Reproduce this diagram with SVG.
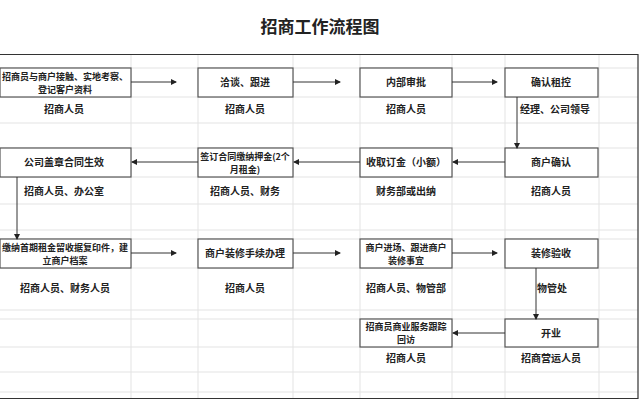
<svg xmlns="http://www.w3.org/2000/svg" width="640" height="401" viewBox="0 0 640 401">
<style>
.g{stroke:#e3e3e3;stroke-width:1}
.b rect{fill:#fff;stroke:#555;stroke-width:1.2}
text{font-family:"Noto Sans CJK SC",sans-serif;font-size:10px;font-weight:bold;fill:#222;text-anchor:middle}
.s{font-size:9px}
.c{stroke:#333;stroke-width:1;fill:none;marker-end:url(#a)}
</style>
<defs><marker id="a" markerWidth="6" markerHeight="6" refX="5" refY="3" orient="auto" markerUnits="userSpaceOnUse"><path d="M0,0L6,3L0,6z" fill="#222"/></marker></defs>
<rect width="640" height="401" fill="#fff"/>
<text x="320" y="33" style="font-size:17px">招商工作流程图</text>
<g>
<path class="g" d="M131 55V398M198 55V398M293 55V398M360 55V398M452 55V398M505 55V398M599 55V398M0 68H638M0 97H638M0 123H638M0 148H638M0 177H638M0 204H638M0 230H638M0 239H638M0 268H638M0 310H638M0 319H638M0 347H638M0 372H638M0 392H638"/>
<path d="M0 54.5H638V398.5H0" fill="none" stroke="#333" stroke-width="1.2"/>
</g>
<g id="n1" class="b"><rect x="0" y="68" width="131" height="29"/><text class="s" x="65" y="80">招商员与商户接触、实地考察、</text><text class="s" x="65" y="93">登记客户资料</text><text x="64" y="113">招商人员</text></g>
<g id="n2" class="b"><rect x="198" y="68" width="95" height="29"/><text x="245" y="86">洽谈、跟进</text><text x="245" y="113">招商人员</text></g>
<g id="n3" class="b"><rect x="360" y="68" width="92" height="29"/><text x="406" y="86">内部审批</text><text x="406" y="113">招商人员</text></g>
<g id="n4" class="b"><rect x="505" y="68" width="93" height="29"/><text x="551" y="86">确认租控</text><text x="555" y="113">经理、公司领导</text></g>
<g id="n5" class="b"><rect x="505" y="148" width="93" height="29"/><text x="551" y="166">商户确认</text><text x="551" y="195">招商人员</text></g>
<g id="n6" class="b"><rect x="360" y="148" width="92" height="29"/><text x="406" y="166">收取订金（小额）</text><text x="406" y="195">财务部或出纳</text></g>
<g id="n7" class="b"><rect x="198" y="148" width="95" height="29"/><text class="s" x="245" y="160">签订合同缴纳押金(2个</text><text class="s" x="245" y="173">月租金)</text><text x="245" y="195">招商人员、财务</text></g>
<g id="n8" class="b"><rect x="0" y="148" width="131" height="29"/><text x="64" y="166">公司盖章合同生效</text><text x="64" y="195">招商人员、办公室</text></g>
<g id="n9" class="b"><rect x="0" y="239" width="131" height="29"/><text class="s" x="65" y="251">缴纳首期租金留收据复印件，建</text><text class="s" x="65" y="264">立商户档案</text><text x="65" y="292">招商人员、财务人员</text></g>
<g id="n10" class="b"><rect x="198" y="239" width="95" height="29"/><text x="245" y="257">商户装修手续办理</text><text x="245" y="292">招商人员</text></g>
<g id="n11" class="b"><rect x="360" y="239" width="92" height="29"/><text class="s" x="406" y="251">商户进场、跟进商户</text><text class="s" x="406" y="264">装修事宜</text><text x="406" y="292">招商人员、物管部</text></g>
<g id="n12" class="b"><rect x="505" y="239" width="93" height="29"/><text x="551" y="257">装修验收</text><text x="552" y="292">物管处</text></g>
<g id="n13" class="b"><rect x="505" y="319" width="93" height="28"/><text x="551" y="337">开业</text><text x="551" y="362">招商营运人员</text></g>
<g id="n14" class="b"><rect x="360" y="319" width="92" height="28"/><text class="s" x="406" y="330">招商员商业服务跟踪</text><text class="s" x="406" y="343">回访</text><text x="406" y="362">招商人员</text></g>
<g id="connectors">
<path class="c" d="M131 82H176"/><path class="c" d="M293 82H340"/><path class="c" d="M452 82H497"/>
<path class="c" d="M517 97V148"/>
<path class="c" d="M505 162H453"/><path class="c" d="M360 162H294"/><path class="c" d="M198 162H132"/>
<path class="c" d="M17 177V239"/>
<path class="c" d="M131 253H176"/><path class="c" d="M293 253H340"/><path class="c" d="M452 253H497"/>
<path class="c" d="M536 268V319"/>
<path class="c" d="M505 333H453"/>
</g>
</svg>
